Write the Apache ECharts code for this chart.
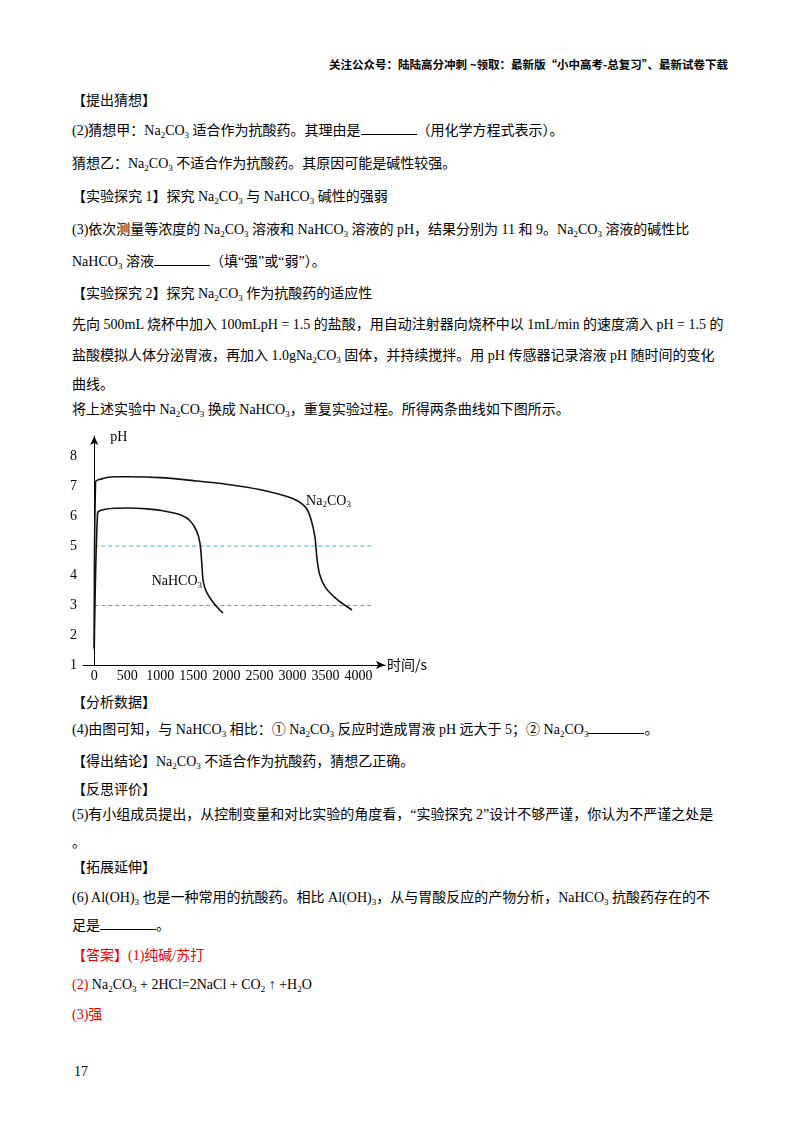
<!DOCTYPE html><html><head><meta charset="utf-8">
<script src="https://cdn.jsdelivr.net/npm/echarts@6/dist/echarts.min.js"></script>
<style>
body{margin:0;width:800px;height:1132px;background:#fff;position:relative;font-family:"Liberation Serif","Noto Sans CJK SC",serif;font-size:14px;color:#000;overflow:hidden}
.l{position:absolute;left:72px;white-space:nowrap;line-height:20px}
sub{font-size:9px;vertical-align:-3px}
.r{color:#e00}
.u{display:inline-block;width:56px;border-bottom:1.5px solid #000;height:12px}
#c{position:absolute;left:60px;top:430px;width:380px;height:260px}
</style></head><body>
<div class="l" style="top:54px;left:auto;right:72px;font-size:11.5px;font-weight:bold;font-family:'Noto Sans CJK SC'">关注公众号：陆陆高分冲刺 ~领取：最新版“小中高考-总复习”、最新试卷下载</div>
<div class="l" style="top:91px">【提出猜想】</div>
<div class="l" style="top:121px">(2)猜想甲：Na<sub>2</sub>CO<sub>3</sub> 适合作为抗酸药。其理由是<span class="u"></span>（用化学方程式表示）。</div>
<div class="l" style="top:154px">猜想乙：Na<sub>2</sub>CO<sub>3</sub> 不适合作为抗酸药。其原因可能是碱性较强。</div>
<div class="l" style="top:187px">【实验探究 1】探究 Na<sub>2</sub>CO<sub>3</sub> 与 NaHCO<sub>3</sub> 碱性的强弱</div>
<div class="l" style="top:220px">(3)依次测量等浓度的 Na<sub>2</sub>CO<sub>3</sub> 溶液和 NaHCO<sub>3</sub> 溶液的 pH，结果分别为 11 和 9。Na<sub>2</sub>CO<sub>3</sub> 溶液的碱性比</div>
<div class="l" style="top:252px">NaHCO<sub>3</sub> 溶液<span class="u"></span>（填“强”或“弱”）。</div>
<div class="l" style="top:284px">【实验探究 2】探究 Na<sub>2</sub>CO<sub>3</sub> 作为抗酸药的适应性</div>
<div class="l" style="top:315px">先向 500mL 烧杯中加入 100mLpH = 1.5 的盐酸，用自动注射器向烧杯中以 1mL/min 的速度滴入 pH = 1.5 的</div>
<div class="l" style="top:346px">盐酸模拟人体分泌胃液，再加入 1.0gNa<sub>2</sub>CO<sub>3</sub> 固体，并持续搅拌。用 pH 传感器记录溶液 pH 随时间的变化</div>
<div class="l" style="top:375px">曲线。</div>
<div class="l" style="top:400px">将上述实验中 Na<sub>2</sub>CO<sub>3</sub> 换成 NaHCO<sub>3</sub>，重复实验过程。所得两条曲线如下图所示。</div>
<div id="c"></div>
<div class="l" style="top:693px">【分析数据】</div>
<div class="l" style="top:720px">(4)由图可知，与 NaHCO<sub>3</sub> 相比：① Na<sub>2</sub>CO<sub>3</sub> 反应时造成胃液 pH 远大于 5；② Na<sub>2</sub>CO<sub>3</sub><span class="u"></span>。</div>
<div class="l" style="top:752px">【得出结论】Na<sub>2</sub>CO<sub>3</sub> 不适合作为抗酸药，猜想乙正确。</div>
<div class="l" style="top:780px">【反思评价】</div>
<div class="l" style="top:805px">(5)有小组成员提出，从控制变量和对比实验的角度看，“实验探究 2”设计不够严谨，你认为不严谨之处是</div>
<div class="l" style="top:833px">。</div>
<div class="l" style="top:858px">【拓展延伸】</div>
<div class="l" style="top:888px">(6) Al(OH)<sub>3</sub> 也是一种常用的抗酸药。相比 Al(OH)<sub>3</sub>，从与胃酸反应的产物分析，NaHCO<sub>3</sub> 抗酸药存在的不</div>
<div class="l" style="top:916px">足是<span class="u"></span>。</div>
<div class="l r" style="top:946px">【答案】(1)纯碱/苏打</div>
<div class="l" style="top:975px"><span class="r">(2)</span> Na<sub>2</sub>CO<sub>3</sub> + 2HCl=2NaCl + CO<sub>2</sub> ↑ +H<sub>2</sub>O</div>
<div class="l r" style="top:1005px">(3)强</div>
<div class="l" style="top:1062px;left:74px">17</div>
<script>
const xTicks=[0,500,1000,1500,2000,2500,3000,3500,4000];
const yTicks=[1,2,3,4,5,6,7,8];
const na2co3=[[0,1.55],[20,7.15],[100,7.25],[300,7.33],[500,7.33],[1000,7.3],[1500,7.2],[2000,7.08],[2500,6.9],[3000,6.6],[3200,6.3],[3280,5.9],[3340,5.3],[3370,4.6],[3410,4.05],[3500,3.6],[3650,3.25],[3800,3.0],[3900,2.85]];
const nahco3=[[0,1.55],[50,6.1],[100,6.2],[300,6.27],[500,6.28],[800,6.25],[1000,6.2],[1300,6.05],[1450,5.85],[1550,5.5],[1600,5.1],[1625,4.5],[1650,3.8],[1700,3.45],[1800,3.1],[1900,2.85],[1950,2.75]];
const refLines=[5,3];
const ch=echarts.init(document.getElementById('c'));
const ax={color:'#000',fontFamily:'Liberation Serif',fontSize:14};
const lbl=(t)=>({show:true,formatter:t,color:'#000',fontFamily:'Liberation Serif',fontSize:14,rich:{s:{fontSize:9,padding:[7,0,0,0],fontFamily:'Liberation Serif'}}});
const ser=[
{type:'line',data:na2co3,showSymbol:false,smooth:0.3,lineStyle:{color:'#111',width:1.6},z:5,
 markPoint:{symbol:'circle',symbolSize:0,data:[{coord:[3545,6.5],label:lbl('Na{s|2}CO{s|3}')}]}},
{type:'line',data:nahco3,showSymbol:false,smooth:0.3,lineStyle:{color:'#111',width:1.6},z:5,
 markPoint:{symbol:'circle',symbolSize:0,data:[{coord:[1250,3.8],label:lbl('NaHCO{s|3}')}]}}];
refLines.forEach(v=>ser.push({type:'line',data:[[0,v],[4200,v]],showSymbol:false,itemStyle:{color:'#3fb0d0'},lineStyle:{color:'#3fb0d0',type:[4,3],width:1,opacity:1},z:2}));
ch.setOption({animation:false,
grid:{left:23,right:55,top:3,bottom:25},
xAxis:{type:'value',min:-170,max:4400,splitLine:{show:false},
 axisLine:{lineStyle:{color:'#000',width:1},symbol:['none','arrow'],symbolSize:[6,9]},
 axisTick:{show:false},axisLabel:{...ax,customValues:xTicks,margin:4,formatter:v=>String(v)},
 name:'时间/s',nameGap:2,nameTextStyle:{...ax,fontFamily:'Noto Sans CJK SC',padding:[18,0,0,0]}},
yAxis:{type:'value',min:1,max:8.7,splitLine:{show:false},
 axisLine:{lineStyle:{color:'#000',width:1},symbol:['none','arrow'],symbolSize:[6,9]},
 axisTick:{show:false},axisLabel:{...ax,customValues:yTicks,margin:6},
 name:'pH',nameGap:-8,nameTextStyle:{...ax,align:'left',padding:[0,0,0,16]}},
series:ser});
</script></body></html>
